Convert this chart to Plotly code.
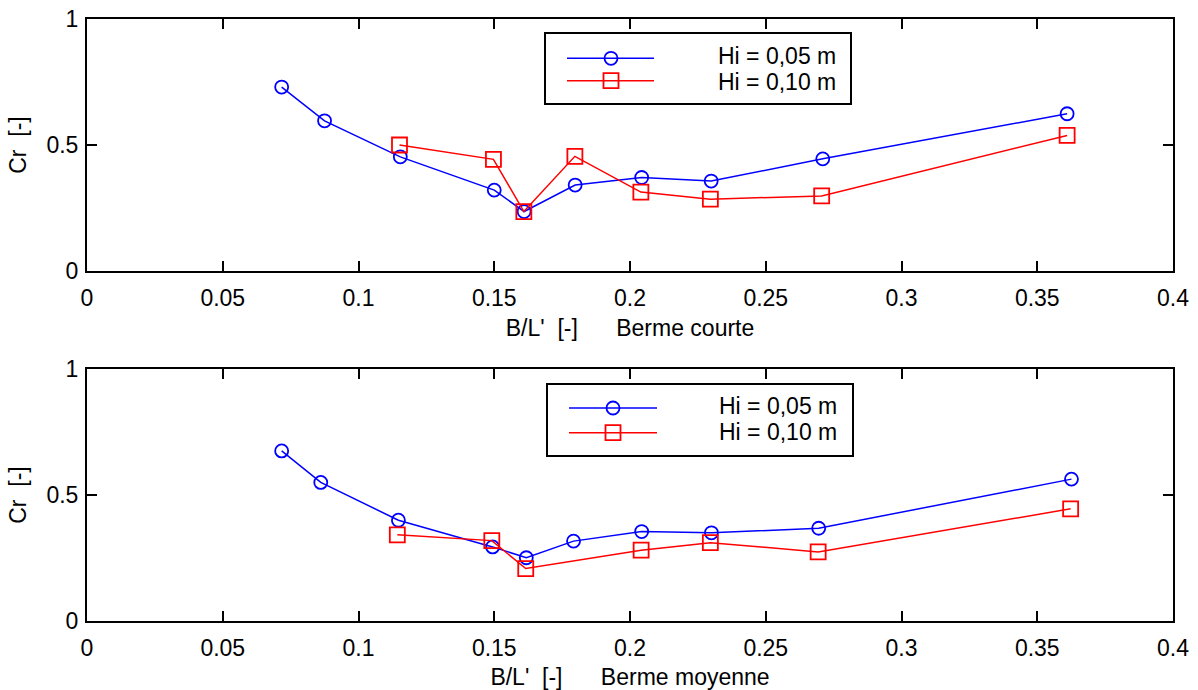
import plotly.graph_objects as go

W, H = 1198, 690

# ---------------- data ----------------
x_ticks = [0, 0.05, 0.1, 0.15, 0.2, 0.25, 0.3, 0.35, 0.4]
x_ticktext = ["0", "0.05", "0.1", "0.15", "0.2", "0.25", "0.3", "0.35", "0.4"]
y_ticks = [0, 0.5, 1]
y_ticktext = ["0", "0.5", "1"]

series_names = ["Hi = 0,05 m", "Hi = 0,10 m"]

# Berme courte (top panel)
court_x_005 = [0.0717, 0.0875, 0.1154, 0.1500, 0.1610, 0.1798, 0.2043, 0.2299, 0.2710, 0.3610]
court_y_005 = [0.730, 0.596, 0.453, 0.321, 0.236, 0.341, 0.371, 0.357, 0.445, 0.624]
court_x_010 = [0.1151, 0.1497, 0.1609, 0.1797, 0.2040, 0.2296, 0.2706, 0.3610]
court_y_010 = [0.500, 0.443, 0.236, 0.455, 0.313, 0.285, 0.298, 0.538]

# Berme moyenne (bottom panel)
moy_x_005 = [0.0717, 0.0861, 0.1147, 0.1494, 0.1618, 0.1792, 0.2043, 0.2300, 0.2695, 0.3626]
moy_y_005 = [0.675, 0.550, 0.400, 0.294, 0.251, 0.317, 0.355, 0.350, 0.368, 0.563]
moy_x_010 = [0.1143, 0.1491, 0.1616, 0.2041, 0.2296, 0.2693, 0.3623]
moy_y_010 = [0.342, 0.319, 0.208, 0.281, 0.311, 0.274, 0.445]

NB = "\u00a0"
x_titles = ["B/L'" + NB * 2 + "[-]" + NB * 6 + "Berme courte",
            "B/L'" + NB * 2 + "[-]" + NB * 6 + "Berme moyenne"]
y_title = "Cr" + NB * 2 + "[-]"

BLUE = "#0000ff"
RED = "#ff0000"
FONT = "Liberation Sans, Arial, Helvetica, sans-serif"
FS = 23

def px_x(p):
    return p / W

def px_y(p):
    return 1 - p / H

fig = go.Figure()

def add_pair(xa, ya, x1, y1, x2, y2):
    fig.add_trace(go.Scatter(
        x=x1, y=y1, xaxis=xa, yaxis=ya, name=series_names[0], mode="lines+markers",
        line=dict(color=BLUE, width=1.5),
        marker=dict(symbol="circle-open", size=13, color=BLUE, line=dict(width=1.8, color=BLUE)),
        showlegend=False))
    fig.add_trace(go.Scatter(
        x=x2, y=y2, xaxis=xa, yaxis=ya, name=series_names[1], mode="lines+markers",
        line=dict(color=RED, width=1.5),
        marker=dict(symbol="square-open", size=15, color=RED, line=dict(width=1.8, color=RED)),
        showlegend=False))

add_pair("x", "y", court_x_005, court_y_005, court_x_010, court_y_010)
add_pair("x2", "y2", moy_x_005, moy_y_005, moy_x_010, moy_y_010)

x_dom = [px_x(87), px_x(1173)]
top_dom = [px_y(271), px_y(19)]
bot_dom = [px_y(621), px_y(369)]

axis_common = dict(
    showline=True, linecolor="black", linewidth=2, mirror="ticks",
    ticks="inside", ticklen=10, tickwidth=1.5, tickcolor="black",
    showgrid=False, zeroline=False, automargin=False,
    tickfont=dict(family=FONT, size=FS, color="black"),
)

def xaxis(anchor, title):
    d = dict(axis_common)
    d.update(domain=x_dom, range=[0, 0.4], tickvals=x_ticks, ticktext=x_ticktext,
             anchor=anchor, ticklabelstandoff=5,
             title=dict(text=title, font=dict(family=FONT, size=FS, color="black"), standoff=10))
    return d

def yaxis(anchor, dom):
    d = dict(axis_common)
    d.update(domain=dom, range=[0, 1], tickvals=y_ticks, ticktext=y_ticktext,
             anchor=anchor, ticklabelstandoff=2,
             title=dict(text=y_title, font=dict(family=FONT, size=FS, color="black"), standoff=13))
    return d

fig.update_layout(
    width=W, height=H,
    margin=dict(l=0, r=0, t=0, b=0),
    paper_bgcolor="white", plot_bgcolor="white",
    xaxis=xaxis("y", x_titles[0]),
    yaxis=yaxis("x", top_dom),
    xaxis2=xaxis("y2", x_titles[1]),
    yaxis2=yaxis("x2", bot_dom),
    showlegend=False,
)

# ---------------- manual legends (MATLAB style) ----------------
shapes = []
annotations = []

def legend(box, line_y, line_x, mark_x, text_right, text_y):
    x0, y0, x1, y1 = box
    shapes.append(dict(type="rect", xref="paper", yref="paper",
                       x0=px_x(x0), x1=px_x(x1), y0=px_y(y1), y1=px_y(y0),
                       line=dict(color="black", width=2), fillcolor="white", layer="above"))
    for i, (col, sym) in enumerate([(BLUE, "circle"), (RED, "square")]):
        ly = line_y[i]
        shapes.append(dict(type="line", xref="paper", yref="paper",
                           x0=px_x(line_x[0]), x1=px_x(line_x[1]), y0=px_y(ly), y1=px_y(ly),
                           line=dict(color=col, width=1.5), layer="above"))
        r = 6.5 if sym == "circle" else 7.5
        shapes.append(dict(type="circle" if sym == "circle" else "rect", xref="paper", yref="paper",
                           x0=px_x(mark_x - r), x1=px_x(mark_x + r),
                           y0=px_y(ly + r), y1=px_y(ly - r),
                           line=dict(color=col, width=1.8), fillcolor="rgba(0,0,0,0)", layer="above"))
        annotations.append(dict(xref="paper", yref="paper", x=px_x(text_right), y=px_y(text_y[i]),
                                text=series_names[i], showarrow=False, xanchor="right", yanchor="middle",
                                borderpad=0,
                                font=dict(family=FONT, size=FS, color="black")))

legend((545, 33, 851, 104), (58.3, 80.7), (567, 654), 611, 837, (56, 82))
legend((547, 384, 853, 456), (408, 432.7), (569, 657), 613, 838, (406, 432))

fig.update_layout(shapes=shapes, annotations=annotations)

fig.write_html("out.html", config={"displayModeBar": False},
               post_script="document.body.style.margin='0';document.body.style.padding='0';")
